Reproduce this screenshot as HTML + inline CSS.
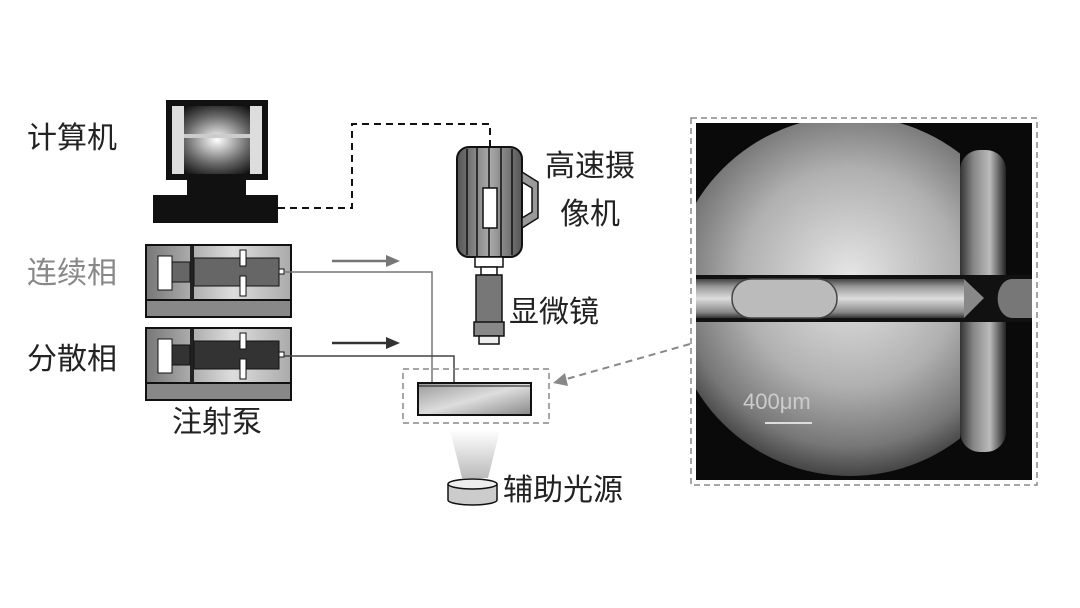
<!DOCTYPE html>
<html><head><meta charset="utf-8"><style>
html,body{margin:0;padding:0;background:#fff;width:1080px;height:608px;overflow:hidden}
svg{display:block}
text{font-family:"Liberation Sans","Noto Sans CJK SC",sans-serif}
</style></head><body>
<svg width="1080" height="608" viewBox="0 0 1080 608" xmlns="http://www.w3.org/2000/svg">
<defs>
<radialGradient id="scr" cx="0.5" cy="0.5" r="0.6"><stop offset="0" stop-color="#fff"/><stop offset="0.6" stop-color="#666"/><stop offset="1" stop-color="#111"/></radialGradient>
<linearGradient id="cam" x1="0" x2="1"><stop offset="0" stop-color="#555"/><stop offset="0.5" stop-color="#aaa"/><stop offset="1" stop-color="#555"/></linearGradient>
<linearGradient id="pump" x1="0" x2="1"><stop offset="0" stop-color="#777"/><stop offset="0.6" stop-color="#ddd"/><stop offset="1" stop-color="#aaa"/></linearGradient>
<linearGradient id="chip" x1="0" y1="0" x2="1" y2="1"><stop offset="0" stop-color="#999"/><stop offset="0.5" stop-color="#ddd"/><stop offset="1" stop-color="#888"/></linearGradient>
<linearGradient id="cone" x1="0" y1="1" x2="0" y2="0"><stop offset="0" stop-color="#bbb"/><stop offset="1" stop-color="#fff"/></linearGradient>
<radialGradient id="img" cx="0.5" cy="0.45" r="0.55"><stop offset="0" stop-color="#e6e6e6"/><stop offset="0.55" stop-color="#b0b0b0"/><stop offset="0.85" stop-color="#777"/><stop offset="1" stop-color="#444"/></radialGradient>
<linearGradient id="ch" x1="0" y1="0" x2="0" y2="1"><stop offset="0" stop-color="#444"/><stop offset="0.2" stop-color="#999"/><stop offset="0.5" stop-color="#ddd"/><stop offset="0.85" stop-color="#888"/><stop offset="1" stop-color="#333"/></linearGradient>
<linearGradient id="chv" x1="0" y1="0" x2="1" y2="0"><stop offset="0" stop-color="#333"/><stop offset="0.3" stop-color="#888"/><stop offset="0.65" stop-color="#bbb"/><stop offset="1" stop-color="#222"/></linearGradient>
<clipPath id="clipL"><rect x="696" y="123" width="264" height="357"/></clipPath>
</defs>

<g font-size="30" fill="#222">
<text x="27" y="148">计算机</text>
<text x="27" y="283" fill="#888">连续相</text>
<text x="27" y="369">分散相</text>
<text x="172" y="432">注射泵</text>
<text x="545" y="176">高速摄</text>
<text x="560" y="224">像机</text>
<text x="509" y="322">显微镜</text>
<text x="503" y="500">辅助光源</text>
</g>

<rect x="166" y="100" width="102" height="80" fill="#111"/>
<rect x="172" y="106" width="90" height="68" fill="url(#scr)"/>
<rect x="172" y="106" width="12" height="68" fill="#ddd"/>
<rect x="250" y="106" width="12" height="68" fill="#ddd"/>
<rect x="184" y="134" width="66" height="4" fill="#ccc"/>
<rect x="187" y="180" width="59" height="16" fill="#111"/>
<rect x="153" y="195" width="125" height="28" fill="#111"/>
<path d="M278 208 H352 V124 H490 V148" fill="none" stroke="#111" stroke-width="2" stroke-dasharray="7,5"/>

<rect x="457" y="147" width="65" height="110" rx="12" fill="url(#cam)" stroke="#111" stroke-width="2"/>
<g stroke="#111" stroke-width="1.5"><line x1="467" y1="149" x2="467" y2="255"/><line x1="477" y1="148" x2="477" y2="256"/><line x1="489" y1="147" x2="489" y2="257"/><line x1="501" y1="148" x2="501" y2="256"/><line x1="512" y1="149" x2="512" y2="255"/></g>
<rect x="483" y="188" width="14" height="40" fill="#fff" stroke="#111" stroke-width="1.5"/>
<path d="M522 172 L538 182 V218 L522 228 V218 L532 212 V188 L522 182 Z" fill="#999" stroke="#111" stroke-width="1.5"/>
<rect x="475" y="257" width="28" height="10" fill="#fff" stroke="#111" stroke-width="1.5"/>
<rect x="481" y="267" width="16" height="8" fill="#fff" stroke="#111" stroke-width="1.5"/>
<rect x="476" y="275" width="26" height="50" fill="#777" stroke="#111" stroke-width="1.5"/>
<rect x="474" y="322" width="30" height="14" fill="#888" stroke="#111" stroke-width="1.5"/>
<rect x="479" y="336" width="20" height="8" fill="#eee" stroke="#111" stroke-width="1.5"/>

<g>
<rect x="146" y="245" width="145" height="72" fill="url(#pump)" stroke="#111" stroke-width="2"/>
<rect x="146" y="300" width="145" height="17" fill="#888" stroke="#111" stroke-width="2"/>
<rect x="190" y="246" width="4" height="54" fill="#222"/>
<rect x="158" y="256" width="14" height="34" fill="#fff" stroke="#111"/>
<rect x="172" y="262" width="18" height="20" fill="#666" stroke="#111"/>
<rect x="194" y="258" width="85" height="28" fill="#666" stroke="#111"/>
<rect x="240" y="250" width="6" height="16" fill="#fff" stroke="#111"/>
<rect x="240" y="276" width="6" height="20" fill="#fff" stroke="#111"/>
<rect x="279" y="269" width="5" height="5" fill="#fff" stroke="#111"/>
</g>
<g>
<rect x="146" y="328" width="145" height="72" fill="url(#pump)" stroke="#111" stroke-width="2"/>
<rect x="146" y="383" width="145" height="17" fill="#888" stroke="#111" stroke-width="2"/>
<rect x="190" y="329" width="4" height="54" fill="#222"/>
<rect x="158" y="339" width="14" height="34" fill="#fff" stroke="#111"/>
<rect x="172" y="345" width="18" height="20" fill="#333" stroke="#111"/>
<rect x="194" y="341" width="85" height="28" fill="#333" stroke="#111"/>
<rect x="240" y="333" width="6" height="16" fill="#fff" stroke="#111"/>
<rect x="240" y="359" width="6" height="20" fill="#fff" stroke="#111"/>
<rect x="279" y="352" width="5" height="5" fill="#fff" stroke="#111"/>
</g>
<line x1="332" y1="261" x2="388" y2="261" stroke="#777" stroke-width="2.5"/>
<polygon points="386,255 400,261 386,267" fill="#777"/>
<line x1="332" y1="343" x2="388" y2="343" stroke="#333" stroke-width="2.5"/>
<polygon points="386,337 400,343 386,349" fill="#333"/>
<path d="M284 272 H432 V383" fill="none" stroke="#777" stroke-width="1.5"/>
<path d="M284 356 H454 V383" fill="none" stroke="#444" stroke-width="1.5"/>
<rect x="403" y="369" width="146" height="54" fill="none" stroke="#888" stroke-width="1.5" stroke-dasharray="6,4"/>
<rect x="418" y="383" width="113" height="32" fill="url(#chip)" stroke="#111" stroke-width="2"/>
<line x1="418" y1="386" x2="531" y2="386" stroke="#111" stroke-width="1"/>
<polygon points="450,430 500,430 488,478 462,478" fill="url(#cone)"/>
<path d="M448 484 V500 A24.5 5 0 0 0 497 500 V484" fill="#ccc" stroke="#111" stroke-width="1.5"/>
<ellipse cx="472.5" cy="484" rx="24.5" ry="5" fill="#eee" stroke="#111" stroke-width="1.5"/>
<line x1="690" y1="344" x2="563" y2="380" stroke="#888" stroke-width="2" stroke-dasharray="7,5"/>
<polygon points="553,383 565,373 568,386" fill="#888"/>

<rect x="691" y="118" width="346" height="367" fill="none" stroke="#888" stroke-width="1.5" stroke-dasharray="6,4"/>
<rect x="696" y="123" width="336" height="357" fill="#0a0a0a"/>
<g clip-path="url(#clipL)"><circle cx="850" cy="296" r="180" fill="url(#img)"/></g>
<rect x="960" y="150" width="46" height="302" rx="20" fill="url(#chv)"/>
<rect x="696" y="275" width="336" height="47" fill="#111"/>
<rect x="696" y="279" width="268" height="39" fill="url(#ch)"/>
<path d="M964 279 L984 298 L964 318 Z" fill="#888"/>
<path d="M1032 279 H1012 A14 19 0 0 0 1012 318 H1032 Z" fill="#777"/>
<rect x="732" y="279" width="105" height="39" rx="19" fill="#bbb" stroke="#444" stroke-width="1.5"/>
<text x="743" y="409" font-family="Liberation Serif,serif" font-size="22" fill="#ccc">400μm</text>
<line x1="765" y1="423" x2="812" y2="423" stroke="#ddd" stroke-width="2"/>
</svg>
</body></html>
